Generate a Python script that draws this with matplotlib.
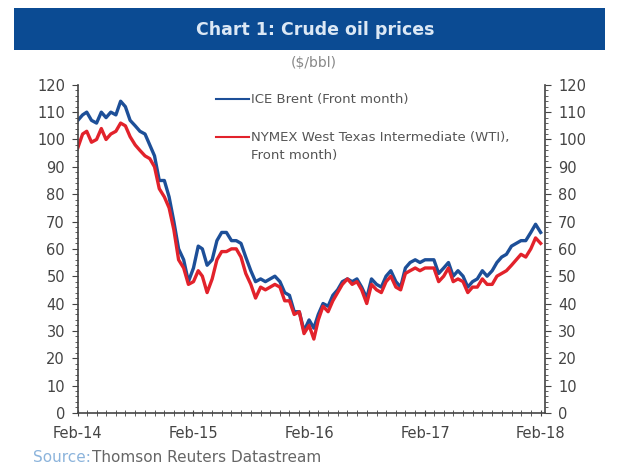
import matplotlib
matplotlib.use('Agg')
import matplotlib.pyplot as plt
import matplotlib.dates as mdates
import numpy as np
import pandas as pd

# semi-monthly observations, Feb 2014 - Feb 2018 ($/bbl)
brent = [107, 109, 110, 107, 106, 110, 108, 110, 109, 114, 112, 107,
         105, 103, 102, 98, 94, 85, 85, 79, 70, 60,
         56, 48, 53, 61, 60, 54, 56, 63, 66, 66, 63, 63, 62, 57,
         52, 48, 49, 48, 49, 50, 48, 44, 43, 37,
         37, 30, 34, 31, 36, 40, 39, 43, 45, 48, 49, 48, 49, 46,
         42, 49, 47, 46, 50, 52, 48, 46, 53, 55,
         56, 55, 56, 56, 56, 51, 53, 55, 50, 52, 50, 46, 48, 49,
         52, 50, 52, 55, 57, 58, 61, 62, 63, 63,
         66, 69, 66]
wti = [97, 102, 103, 99, 100, 104, 100, 102, 103, 106, 105, 101,
       98, 96, 94, 93, 90, 82, 79, 75, 67, 56,
       53, 47, 48, 52, 50, 44, 49, 56, 59, 59, 60, 60, 57, 51,
       47, 42, 46, 45, 46, 47, 46, 41, 41, 36,
       37, 29, 32, 27, 34, 39, 37, 41, 44, 47, 49, 47, 48, 45,
       40, 47, 45, 44, 48, 50, 46, 45, 51, 52,
       53, 52, 53, 53, 53, 48, 50, 53, 48, 49, 48, 44, 46, 46,
       49, 47, 47, 50, 51, 52, 54, 56, 58, 57,
       60, 64, 62]
dates = pd.to_datetime(['%d-%02d-%02d' % (y, m, d)
                        for y in range(2014, 2019) for m in range(1, 13) for d in (1, 16)])
dates = dates[dates >= '2014-02-01'][:len(brent)]

brent_label = 'ICE Brent (Front month)'
wti_label = 'NYMEX West Texas Intermediate (WTI),'
wti_label_2 = 'Front month)'
year_ticks = ['Feb-14', 'Feb-15', 'Feb-16', 'Feb-17', 'Feb-18']

fig = plt.figure(figsize=(6.18, 4.66), dpi=100)
fig.patch.set_facecolor('white')

# title bar
fig.patches.append(plt.Rectangle((0.023, 0.893), 0.956, 0.09, transform=fig.transFigure,
                                 facecolor='#0b4b93', edgecolor='none'))
fig.text(0.51, 0.936, 'Chart 1: Crude oil prices', ha='center', va='center',
         color='#dce8f5', fontsize=12.5, fontweight='bold')
fig.text(0.508, 0.865, '($/bbl)', ha='center', va='center', color='#888888', fontsize=10)

ax = fig.add_axes([0.126, 0.114, 0.756, 0.704])
ax.plot(dates, brent, color='#1d4f98', lw=2.4, label=brent_label)
ax.plot(dates, wti, color='#e2222b', lw=2.4, label=wti_label)

ax.set_ylim(0, 120)
ax.set_xlim(pd.Timestamp('2014-02-01'), pd.Timestamp('2018-02-15'))
ax.set_yticks(np.arange(0, 121, 10))
ax.set_yticks(np.arange(0, 121, 2), minor=True)
ax.set_xticks(pd.to_datetime(['2014-02-01', '2015-02-01', '2016-02-01', '2017-02-01', '2018-02-01']))
ax.set_xticklabels(year_ticks)
ax.xaxis.set_minor_locator(mdates.MonthLocator())

ax.spines['top'].set_visible(False)
for s in ['left', 'right', 'bottom']:
    ax.spines[s].set_color('#444444')
    ax.spines[s].set_linewidth(1.2)

ax.tick_params(axis='y', which='both', left=True, right=True, labelleft=True, labelright=True,
               direction='out', colors='#444444', labelsize=10.5)
ax.tick_params(axis='y', which='major', length=4.3, pad=5)
ax.tick_params(axis='y', which='minor', length=2)
ax.tick_params(axis='x', which='both', direction='inout', colors='#444444', labelsize=10.5)
ax.tick_params(axis='x', which='major', length=5, pad=7)
ax.tick_params(axis='x', which='minor', length=4)
for lab in ax.get_xticklabels() + ax.get_yticklabels():
    lab.set_color('#444444')

leg = ax.legend(loc='upper left', bbox_to_anchor=(0.27, 1.01), frameon=False, fontsize=9.5,
                handlelength=2.5, handletextpad=0.15, labelspacing=1.9)
for line in leg.get_lines():
    line.set_linewidth(1.5)
for t in leg.get_texts():
    t.set_color('#555555')

# second line of the WTI legend label, hung under the first
fig.canvas.draw()
bb = leg.get_texts()[1].get_window_extent().transformed(fig.transFigure.inverted())
fig.text(bb.x0, bb.y0 - 0.037, wti_label_2, color='#555555', fontsize=9.5, va='bottom')

fig.text(0.053, 0.008, 'Source:', color='#8cb4dc', fontsize=11)
fig.text(0.149, 0.008, 'Thomson Reuters Datastream', color='#666666', fontsize=11)

fig.savefig('out.png', dpi=100)
